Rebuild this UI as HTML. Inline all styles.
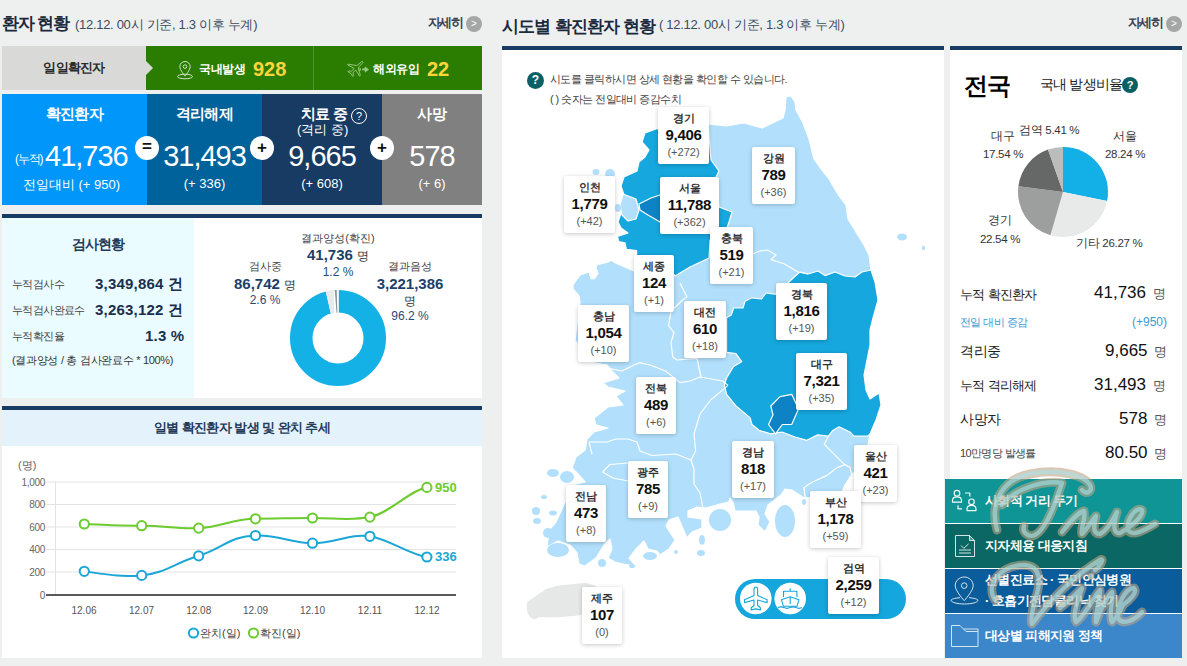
<!DOCTYPE html>
<html><head><meta charset="utf-8">
<style>
*{box-sizing:border-box;margin:0;padding:0}
html,body{width:1187px;height:666px;overflow:hidden;background:#eeefef;font-family:"Liberation Sans",sans-serif;position:relative}
.a{position:absolute;white-space:nowrap}
.c{text-align:center}
.w{color:#fff}
</style></head><body>

<!-- ===== LEFT HEADER ===== -->
<div class="a" style="left:2px;top:12px;font-size:17px;font-weight:bold;color:#1b2a3d;letter-spacing:-1.3px">환자 현황</div>
<div class="a" style="left:75px;top:16px;font-size:13px;color:#3c4b5e;letter-spacing:-0.3px">(12.12. 00시 기준, 1.3 이후 누계)</div>
<div class="a" style="left:428px;top:15px;font-size:12.5px;font-weight:bold;color:#3b3f52;letter-spacing:-1.6px">자세히</div>
<div class="a" style="left:466px;top:16px;width:16px;height:16px;border-radius:50%;background:#a5a6a6;color:#fff;font-size:10px;line-height:16px;text-align:center">&gt;</div>

<!-- daily bar -->
<div class="a" style="left:2px;top:46px;width:144px;height:44px;background:#d9dad8"></div>
<div class="a c" style="left:2px;top:59px;width:144px;font-size:13px;font-weight:bold;color:#2a2a2a;letter-spacing:-0.8px">일일확진자</div>
<div class="a" style="left:146px;top:46px;width:336px;height:44px;background:#2a7d00"></div>
<div class="a" style="left:146px;top:61px;width:0;height:0;border-top:7px solid transparent;border-bottom:7px solid transparent;border-left:7px solid #d9dad8"></div>
<div class="a" style="left:313px;top:46px;width:1px;height:44px;background:#4e9430"></div>
<svg class="a" style="left:176px;top:60px" width="18" height="20" viewBox="0 0 18 20" fill="none" stroke="#cfe3c4" stroke-width="1">
<path d="M9 1.5c-3 0-5.2 2.3-5.2 5.1 0 3.4 5.2 9.6 5.2 9.6s5.2-6.2 5.2-9.6C14.2 3.8 12 1.5 9 1.5z"/>
<circle cx="9" cy="6.6" r="1.8"/>
<ellipse cx="9" cy="16.5" rx="7.5" ry="2.3"/>
</svg>
<div class="a w" style="left:199px;top:61px;font-size:12px;font-weight:bold;letter-spacing:-0.4px">국내발생</div>
<div class="a" style="left:253px;top:58px;font-size:20px;font-weight:bold;color:#ffd53a">928</div>
<svg class="a" style="left:343px;top:56px" width="30" height="24" viewBox="0 0 30 24" fill="none" stroke="#98c884" stroke-width="0.95" stroke-linejoin="round">
<path d="M18.8 5.6C19.8 5.3 20.2 6.2 19.6 7.1L15.6 11 17.2 19.5C17.3 20 16.8 20.4 16.4 20L12.8 14 10 16.6 10.5 19.8 9.6 20.3 8 17.5 5 15.8 5.5 15 8.5 15.2 11.2 12.4 4.8 9C4.3 8.7 4.6 8.2 5.1 8.2L13.8 9.6Z"/>
<path d="M15.6 12.3v2.3M17.4 12.3v2.3" stroke-width="1"/>
<path d="M19.2 13.4h3.2" stroke-width="1.9"/>
<path d="M21.8 10.3L26 13.4 21.8 16.8Z" fill="#98c884" stroke="none"/>
</svg>
<div class="a w" style="left:373px;top:61px;font-size:12px;font-weight:bold;letter-spacing:-0.4px">해외유입</div>
<div class="a" style="left:427px;top:58px;font-size:20px;font-weight:bold;color:#ffd53a">22</div>

<!-- big boxes -->
<div class="a" style="left:2px;top:94px;width:145px;height:111px;background:#0096fa"></div>
<div class="a" style="left:147px;top:94px;width:115px;height:111px;background:#00629b"></div>
<div class="a" style="left:262px;top:94px;width:120px;height:111px;background:#173b63"></div>
<div class="a" style="left:382px;top:94px;width:100px;height:111px;background:#808080"></div>

<div class="a c w" style="left:2px;top:105px;width:145px;font-size:15px;font-weight:bold;letter-spacing:-0.8px">확진환자</div>
<div class="a c w" style="left:147px;top:105px;width:115px;font-size:15px;font-weight:bold;letter-spacing:-0.7px">격리해제</div>
<div class="a w" style="left:301px;top:105px;font-size:15px;font-weight:bold;letter-spacing:-0.8px">치료 중</div>
<div class="a" style="left:351px;top:108px;width:16px;height:16px;border:1px solid #fff;border-radius:50%;color:#fff;font-size:11px;line-height:14px;text-align:center">?</div>
<div class="a w" style="left:297px;top:121px;font-size:13px">(격리 중)</div>
<div class="a c w" style="left:382px;top:105px;width:100px;font-size:15px;font-weight:bold">사망</div>

<div class="a w" style="left:15px;top:151px;font-size:12px;letter-spacing:-1.2px">(누적)</div>
<div class="a w" style="left:45px;top:140px;font-size:29px;letter-spacing:-1px">41,736</div>
<div class="a c w" style="left:147px;top:140px;width:115px;font-size:29px;letter-spacing:-1px">31,493</div>
<div class="a c w" style="left:262px;top:140px;width:120px;font-size:29px;letter-spacing:-1px">9,665</div>
<div class="a c w" style="left:382px;top:140px;width:100px;font-size:29px;letter-spacing:-1px">578</div>

<div class="a c w" style="left:-1px;top:176px;width:145px;font-size:13px">전일대비 (+ 950)</div>
<div class="a c w" style="left:147px;top:176px;width:115px;font-size:13px">(+ 336)</div>
<div class="a c w" style="left:262px;top:176px;width:120px;font-size:13px">(+ 608)</div>
<div class="a c w" style="left:382px;top:176px;width:100px;font-size:13px">(+ 6)</div>

<div class="a c" style="left:135px;top:136px;width:24px;height:24px;border-radius:50%;background:#fff;font-size:17px;font-weight:bold;line-height:22px;color:#111">=</div>
<div class="a c" style="left:250px;top:136px;width:24px;height:24px;border-radius:50%;background:#fff;font-size:17px;font-weight:bold;line-height:23px;color:#111">+</div>
<div class="a c" style="left:370px;top:136px;width:24px;height:24px;border-radius:50%;background:#fff;font-size:17px;font-weight:bold;line-height:23px;color:#111">+</div>

<!-- test panel -->
<div class="a" style="left:2px;top:214px;width:480px;height:184px;background:#fff;border-top:4px solid #173b63"></div>
<div class="a" style="left:2px;top:218px;width:192px;height:180px;background:#eafcff"></div>
<div class="a c" style="left:2px;top:236px;width:192px;font-size:14px;font-weight:bold;color:#243b5a;letter-spacing:-1px">검사현황</div>
<div class="a" style="left:12px;top:277px;font-size:11px;color:#444;letter-spacing:-0.6px">누적검사수</div>
<div class="a" style="left:12px;top:303px;font-size:11px;color:#444;letter-spacing:-0.6px">누적검사완료수</div>
<div class="a" style="left:12px;top:329px;font-size:11px;color:#444;letter-spacing:-0.6px">누적확진율</div>
<div class="a" style="left:95px;top:275px;font-size:15px;font-weight:bold;color:#1b2f4d;letter-spacing:0.2px">3,349,864 건</div>
<div class="a" style="left:95px;top:301px;font-size:15px;font-weight:bold;color:#1b2f4d;letter-spacing:0.2px">3,263,122 건</div>
<div class="a" style="left:145px;top:327px;font-size:15px;font-weight:bold;color:#1b2f4d;letter-spacing:0.2px">1.3 %</div>
<div class="a" style="left:12px;top:353px;font-size:11px;color:#333;letter-spacing:-0.3px">(결과양성 / 총 검사완료수 * 100%)</div>

<div class="a c" style="left:290px;top:231px;width:96px;font-size:11px;color:#444">결과양성(확진)</div>
<div class="a c" style="left:290px;top:246px;width:96px;font-size:15px;font-weight:bold;color:#1d3f6b">41,736 <span style="font-size:12px;font-weight:normal;color:#333">명</span></div>
<div class="a c" style="left:290px;top:265px;width:96px;font-size:12px;color:#2a4a78">1.2 %</div>
<div class="a c" style="left:225px;top:259px;width:80px;font-size:11px;color:#444">검사중</div>
<div class="a c" style="left:225px;top:275px;width:80px;font-size:15px;font-weight:bold;color:#1d3f6b">86,742 <span style="font-size:12px;font-weight:normal;color:#333">명</span></div>
<div class="a c" style="left:225px;top:293px;width:80px;font-size:12px;color:#2a4a78">2.6 %</div>
<div class="a c" style="left:370px;top:259px;width:80px;font-size:11px;color:#444">결과음성</div>
<div class="a c" style="left:360px;top:275px;width:100px;font-size:15px;font-weight:bold;color:#1d3f6b">3,221,386</div>
<div class="a c" style="left:370px;top:293px;width:80px;font-size:12px;color:#333">명</div>
<div class="a c" style="left:370px;top:309px;width:80px;font-size:12px;color:#2a4a78">96.2 %</div>
<svg class="a" style="left:290px;top:290px" width="96" height="96" viewBox="-48 -48 96 96">
<circle r="36.75" fill="none" stroke="#14b1e7" stroke-width="22.5"/>
<path d="M0.8 -49L0.8 -24L-7.1 -24.4L-12.6 -48Z" fill="#fff"/>
<path d="M-4.2 -48.5L-3.9 -25.2L-7.3 -24.4L-12.2 -46.8Z" fill="#e9eaea"/>
<path d="M-3.3 -48.6L-1.3 -48.6L-0.6 -25.3L-1.5 -25.3Z" fill="#8a9699"/>
</svg>

<!-- chart panel -->
<div class="a" style="left:2px;top:406px;width:480px;height:252px;background:#fff;border-top:4px solid #173b63"></div>
<div class="a" style="left:2px;top:410px;width:480px;height:36px;background:#e4f3fb"></div>
<div class="a c" style="left:2px;top:419px;width:480px;font-size:13px;font-weight:bold;color:#243b5a;letter-spacing:-0.6px">일별 확진환자 발생 및 완치 추세</div>
<svg class="a" style="left:0;top:446px" width="482" height="210" viewBox="0 446 482 210">
<g stroke="#e3e3e3" stroke-width="1">
<path d="M46 482H456M46 504.5H456M46 527H456M46 549.5H456M46 572H456"/>
</g>
<path d="M55.5 482V595" stroke="#e3e3e3"/>
<path d="M46 595H456" stroke="#222" stroke-width="1.5"/>
<g font-size="10" fill="#666" text-anchor="end" font-family="Liberation Sans" letter-spacing="-0.3">
<text x="45" y="485.5">1,000</text><text x="45" y="508">800</text><text x="45" y="530.5">600</text><text x="45" y="553">400</text><text x="45" y="575.5">200</text><text x="45" y="598.5">0</text>
</g>
<text x="18" y="469" font-size="11" fill="#666" font-family="Liberation Sans">(명)</text>
<g font-size="10" fill="#555" text-anchor="middle" font-family="Liberation Sans">
<text x="84" y="614">12.06</text><text x="141.5" y="614">12.07</text><text x="198.7" y="614">12.08</text><text x="255.5" y="614">12.09</text><text x="312.5" y="614">12.10</text><text x="370" y="614">12.11</text><text x="427" y="614">12.12</text>
</g>
<path d="M84.3 524C110 525 120 526 141.7 525.7S175 529 198.7 528.1S230 519 255.5 518.8S290 518 312.5 518S350 521 369.9 517.1S410 490 426.9 487.4" fill="none" stroke="#6ccb2e" stroke-width="2"/>
<path d="M84.3 571.3C110 575 120 577 141.7 575.4S175 563 198.7 555.8S230 536 255.5 535.5S290 543 312.5 543.2S350 533 369.9 536.3S410 555 426.9 557" fill="none" stroke="#1ba6d8" stroke-width="2"/>
<g fill="#fff" stroke="#6ccb2e" stroke-width="2">
<circle cx="84.3" cy="524" r="4.6"/><circle cx="141.7" cy="525.7" r="4.6"/><circle cx="198.7" cy="528.1" r="4.6"/><circle cx="255.5" cy="518.8" r="4.6"/><circle cx="312.5" cy="518" r="4.6"/><circle cx="369.9" cy="517.1" r="4.6"/><circle cx="426.9" cy="487.4" r="4.6"/>
</g>
<g fill="#fff" stroke="#1ba6d8" stroke-width="2">
<circle cx="84.3" cy="571.3" r="4.6"/><circle cx="141.7" cy="575.4" r="4.6"/><circle cx="198.7" cy="555.8" r="4.6"/><circle cx="255.5" cy="535.5" r="4.6"/><circle cx="312.5" cy="543.2" r="4.6"/><circle cx="369.9" cy="536.3" r="4.6"/><circle cx="426.9" cy="557" r="4.6"/>
</g>
<text x="435" y="492" font-size="13" font-weight="bold" fill="#6ccb2e" font-family="Liberation Sans">950</text>
<text x="435" y="561" font-size="13" font-weight="bold" fill="#1ba6d8" font-family="Liberation Sans">336</text>
<circle cx="193.5" cy="633" r="4.6" fill="none" stroke="#1ba6d8" stroke-width="2"/>
<text x="200" y="637" font-size="11" fill="#444" font-family="Liberation Sans">완치(일)</text>
<circle cx="253.5" cy="633" r="4.6" fill="none" stroke="#6ccb2e" stroke-width="2"/>
<text x="260" y="637" font-size="11" fill="#444" font-family="Liberation Sans">확진(일)</text>
</svg>

<!-- map panel -->
<div class="a" style="left:502px;top:15px;font-size:17px;font-weight:bold;color:#1b2a3d;letter-spacing:-0.8px">시도별 확진환자 현황</div>
<div class="a" style="left:659px;top:16px;font-size:13px;color:#3c4b5e;letter-spacing:-0.3px">( 12.12. 00시 기준, 1.3 이후 누계)</div>
<div class="a" style="left:502px;top:46px;width:442px;height:612px;background:#fff;border-top:4px solid #173b63"></div>
<div class="a c" style="left:527px;top:72px;width:17px;height:17px;border-radius:50%;background:#0b6065;color:#fff;font-size:12px;font-weight:bold;line-height:17px">?</div>
<div class="a" style="left:550px;top:72px;font-size:11px;color:#444;letter-spacing:-0.55px">시도를 클릭하시면 상세 현황을 확인할 수 있습니다.</div>
<div class="a" style="left:550px;top:92px;font-size:11px;color:#444;letter-spacing:-0.55px">( ) 숫자는 전일대비 증감수치</div>

<svg class="a" style="left:502px;top:50px" width="442" height="607" viewBox="502 50 442 607">
<g stroke="#fff" stroke-width="1.2" stroke-linejoin="round">
<path fill="#b2e0fc" d="M645 133L656 129 675 127 708 124 726 126 744 123 762 128 783 118 785 110 786 97 791 96 795 102 796 110 803 123 809 139 814 159 821 169 829 179 839 196 846 205 848 219 856 232 864 245 869 255 871 270 875 282 878 300 873 318 870 330 870 345 867 360 864 375 866 390 870 399 879 393 881 405 876 420 870 434 867 450 858 470 852 474 845 485 842 492 820 496 804 498 801 496 792 490 785 489 781 495 768 505 765 514 770 522 765 532 758 525 759 517 756 511 735 511 733 502 730 498 729 502 720 504 706 508 697 507 688 511 688 517 702 519 702 528 692 532 687 538 678 517 669 520 666 526 675 540 669 549 660 555 657 551 648 549 644 541 636 549 629 558 636 566 623 564 615 562 608 558 612 549 610 539 604 545 596 558 585 566 579 564 577 553 570 545 558 541 547 547 549 530 556 522 566 500 572 485 585 482 578 474 572 468 576 457 585 450 587 439 594 432 608 428 596 425 594 418 608 407 623 405 616 396 625 391 608 387 603 383 619 378 612 371 607 365 590 362 575 340 580 302 579 296 573 289 573 285 580 275 589 272 591 278.6 594.5 278.6 598 273.5 596 268.4 597 264.6 608.5 262 611 260 616 263.3 634 271 636.6 255.6 636.6 250.5 626.4 249.3 625 242.9 618.7 241.6 617.4 236.5 628 233 621 228 618 222 622 210 624 195 621 186 624 177 637 171 639 162 645 157 649 150 642 142Z"/>
<path fill="#15a7de" d="M645 133L656 129 675 127 708 124 711 160 719 171 716 177 719 207 732 212 729 222 726 231 710 240 709 258 690 267 675 276 660 258 636.6 255.6 636.6 250.5 626.4 249.3 625 242.9 618.7 241.6 617.4 236.5 628 233 621 228 618 222 622 210 624 195 621 186 624 177 637 171 639 162 645 157 649 150 642 142Z"/>
<path fill="#b2e0fc" d="M623 194L636 199 639 210 636 219 628 221 622 215 620 205Z"/>
<path fill="#0d83c5" d="M639 204L651 198 660 195 672 196 660 222 648 215 640 210Z"/>
<path fill="#15a7de" d="M794.7 276.5L800 272 808 274 818 271 825 275.6 835 272 845 276 855 277 862 272 871 270 875 282 878 300 873 318 870 330 870 345 867 360 864 375 866 390 870 399 879 393 881 405 876 420 870 434 867.6 436.2 854 436.2 850 432 839 426.8 832.4 430.8 828.4 436.2 817.6 434.9 806.8 440.3 795 437 782 432 770.8 433.8 759 430.3 752 424.5 750 417.6 736 406 726.6 394.3 724.3 385 726.6 378 733.6 366.4 741.7 361.7 736 353.6 726.6 352.4 726.6 317.6 731.3 315 733.6 308 743 308 745 301.3 752 297.8 761.5 299 766 293 776.6 294.3 789 282Z"/>
<path fill="#0d83c5" d="M770.8 406L780 396.6 791.7 394.3 798.5 409 791.7 424.5 782.4 424.5 775.5 433.8 768.5 424.5 773 415Z"/>
</g>
<g fill="none" stroke="#fff" stroke-width="1.2" stroke-linejoin="round">
<path d="M753 253.7L760 251 767.5 250 776 255 771 259.6 784 263.8 798 272 808 274"/>
<path d="M607 368L622 371 634 365 640 362.6 651.4 365.5 665.6 371 680 382.6 690 381 700 377 722.6 381 728 385.4"/>
<path d="M680 283L687 297 682.7 300 671 311 668.5 325.6 674 332.7 671 342.7 672.8 357 677 360 697 358.3 701 377"/>

<path d="M589 442L592 454M589 442L607 442 616 439 628 439 637 442 640 451 652 455.5 676 454 691 460 694 469 694 484 700 493 703 508"/>
<path d="M602.5 472L610 464.5 628 463M628 481L613 478 602.5 472"/>
<path d="M728 385.4L711 399.7 700 414 694 434 695.6 451 691 460"/>
<path d="M828.4 436.2L824.3 444.3 844.6 464.6 850 467.3 851.4 474M844.6 464.6L836.5 468 827 475.4 812 482.2 804 487.6 805.4 501"/>

</g>
<g fill="#b2e0fc">
<ellipse cx="902" cy="237" rx="5" ry="3.5"/><ellipse cx="923.5" cy="248" rx="1.6" ry="2.2"/>
<ellipse cx="553" cy="473" rx="6" ry="4"/><ellipse cx="567" cy="477" rx="7" ry="6"/><ellipse cx="544" cy="497" rx="3" ry="2"/>
<ellipse cx="536" cy="511" rx="4" ry="4"/><ellipse cx="537" cy="521" rx="4" ry="3"/><ellipse cx="548" cy="533" rx="5" ry="5"/><ellipse cx="553" cy="513" rx="4" ry="2.5"/>
<ellipse cx="558" cy="550" rx="11" ry="7"/><ellipse cx="602" cy="563" rx="4" ry="4"/><ellipse cx="632" cy="566" rx="3" ry="2"/>
<ellipse cx="650" cy="556" rx="7" ry="4"/><ellipse cx="676" cy="552" rx="2" ry="2"/>
<ellipse cx="785" cy="521" rx="10" ry="16"/><ellipse cx="720" cy="520" rx="11" ry="11"/><ellipse cx="702" cy="540" rx="3" ry="5"/><ellipse cx="701" cy="553" rx="4" ry="3"/><ellipse cx="804" cy="502" rx="2" ry="3"/>
<ellipse cx="596" cy="172" rx="3.5" ry="3"/><ellipse cx="610" cy="174" rx="5" ry="5"/><ellipse cx="618" cy="208" rx="3" ry="4"/>
</g>
<path fill="#e6e8e8" d="M527.4 602L546 589 557 585.7 586 582.8 596 586 596 612 578 615.5 557 617.5 539 617C536 620 531 620 528.5 614.6C526.5 611 526.5 605 527.4 602Z"/>
<rect x="735" y="579" width="171" height="40" rx="20" fill="#14a6dc"/>
<circle cx="755.8" cy="598.5" r="15.8" fill="#fff"/>
<circle cx="790.2" cy="598.5" r="15.8" fill="#fff"/>
<g fill="none" stroke="#14a6dc" stroke-width="1.1" stroke-linejoin="round">
<path d="M755.8 587c-1.2 0-1.8 1-1.8 2.3v6.2l-9.5 4.3v2.8l9.5-2.6v5.5l-2.8 2.2v2.2l4.6-1 4.6 1v-2.2l-2.8-2.2v-5.5l9.5 2.6v-2.8l-9.5-4.3v-6.2c0-1.3-0.6-2.3-1.8-2.3z"/>
<path d="M790.2 588.3v3M783.5 597v-5.7h13.4V597"/>
<path d="M781.5 599.8L790.2 596.8 798.9 599.8 797 606.3H783.4Z"/>
<path d="M790.2 597v7"/>
<path d="M778 607.6c2-1 4-1 6 0s4 1 6 0 4-1 6 0 4 1 6 0"/>
</g>
</svg>

<!-- map labels -->
<style>
.lb{position:absolute;background:#fff;border-radius:2px;box-shadow:0 1px 4px rgba(0,0,0,.22);text-align:center;height:57px}
.lb b{display:block;font-size:11px;color:#333;margin-top:4px;height:14px;line-height:14px}
.lb i{display:block;font-style:normal;font-size:15px;font-weight:bold;color:#111;height:19px;line-height:19px;letter-spacing:-0.3px}
.lb u{display:block;text-decoration:none;font-size:11px;color:#555;height:14px;line-height:14px;margin-top:0.5px}
</style>
<div class="lb" style="left:658px;top:107px;width:51px"><b>경기</b><i>9,406</i><u>(+272)</u></div>
<div class="lb" style="left:752px;top:147px;width:43px"><b>강원</b><i>789</i><u>(+36)</u></div>
<div class="lb" style="left:564px;top:176px;width:51px"><b>인천</b><i>1,779</i><u>(+42)</u></div>
<div class="lb" style="left:660px;top:177px;width:59px"><b>서울</b><i>11,788</i><u>(+362)</u></div>
<div class="lb" style="left:710px;top:227px;width:43px"><b>충북</b><i>519</i><u>(+21)</u></div>
<div class="lb" style="left:634px;top:255px;width:40px"><b>세종</b><i>124</i><u>(+1)</u></div>
<div class="lb" style="left:776px;top:283px;width:51px"><b>경북</b><i>1,816</i><u>(+19)</u></div>
<div class="lb" style="left:684px;top:301px;width:42px"><b>대전</b><i>610</i><u>(+18)</u></div>
<div class="lb" style="left:578px;top:305px;width:51px"><b>충남</b><i>1,054</i><u>(+10)</u></div>
<div class="lb" style="left:796px;top:353px;width:51px"><b>대구</b><i>7,321</i><u>(+35)</u></div>
<div class="lb" style="left:636px;top:377px;width:40px"><b>전북</b><i>489</i><u>(+6)</u></div>
<div class="lb" style="left:732px;top:441px;width:42px"><b>경남</b><i>818</i><u>(+17)</u></div>
<div class="lb" style="left:854px;top:445px;width:43px"><b>울산</b><i>421</i><u>(+23)</u></div>
<div class="lb" style="left:628px;top:461px;width:40px"><b>광주</b><i>785</i><u>(+9)</u></div>
<div class="lb" style="left:566px;top:485px;width:40px"><b>전남</b><i>473</i><u>(+8)</u></div>
<div class="lb" style="left:810px;top:491px;width:51px"><b>부산</b><i>1,178</i><u>(+59)</u></div>
<div class="lb" style="left:828px;top:557px;width:51px"><b>검역</b><i>2,259</i><u>(+12)</u></div>
<div class="lb" style="left:582px;top:587px;width:40px"><b>제주</b><i>107</i><u>(0)</u></div>

<!-- right panel -->
<div class="a" style="left:1128px;top:15px;font-size:12.5px;font-weight:bold;color:#3b3f52;letter-spacing:-1.6px">자세히</div>
<div class="a" style="left:1166px;top:16px;width:16px;height:16px;border-radius:50%;background:#a5a6a6;color:#fff;font-size:10px;line-height:16px;text-align:center">&gt;</div>
<div class="a" style="left:950px;top:46px;width:232px;height:433px;background:#fff;border-top:4px solid #173b63"></div>
<div class="a" style="left:964px;top:70px;font-size:24px;font-weight:bold;color:#000;letter-spacing:-1px">전국</div>
<div class="a" style="left:1040px;top:76px;font-size:14px;color:#222;letter-spacing:-0.8px">국내 발생비율</div>
<div class="a c" style="left:1122px;top:77px;width:16px;height:16px;border-radius:50%;background:#0b6065;color:#fff;font-size:11px;font-weight:bold;line-height:16px">?</div>

<svg class="a" style="left:1013px;top:142px" width="100" height="100" viewBox="-50 -50 100 100">
<g>
<path id="p1" fill="#12b0e6"/>
<path id="p2" fill="#e8e9e9"/>
<path id="p3" fill="#9d9e9e"/>
<path id="p4" fill="#666767"/>
<path id="p5" fill="#bbbcbc"/>
</g>
</svg>
<div class="a" style="left:1019px;top:123px;font-size:11.5px;color:#333;letter-spacing:-0.3px">검역 5.41 %</div>
<div class="a" style="left:991px;top:129px;font-size:11.5px;color:#333;letter-spacing:-0.3px">대구</div>
<div class="a" style="left:983px;top:148px;font-size:11.5px;color:#333;letter-spacing:-0.3px">17.54 %</div>
<div class="a" style="left:1113px;top:129px;font-size:11.5px;color:#333;letter-spacing:-0.3px">서울</div>
<div class="a" style="left:1105px;top:148px;font-size:11.5px;color:#333;letter-spacing:-0.3px">28.24 %</div>
<div class="a" style="left:988px;top:213px;font-size:11.5px;color:#333;letter-spacing:-0.3px">경기</div>
<div class="a" style="left:980px;top:233px;font-size:11.5px;color:#333;letter-spacing:-0.3px">22.54 %</div>
<div class="a" style="left:1076px;top:236px;font-size:11.5px;color:#333;letter-spacing:-0.3px">기타 26.27 %</div>

<div class="a" style="left:960px;top:286px;font-size:13px;color:#222;letter-spacing:-0.7px">누적 확진환자</div>
<div class="a" style="left:1094px;top:283px;font-size:17px;color:#111">41,736 <span style="font-size:13px;color:#555;margin-left:2px">명</span></div>
<div class="a" style="left:960px;top:315px;font-size:11px;color:#3a9ad5;letter-spacing:-0.6px">전일 대비 증감</div>
<div class="a" style="left:1132px;top:315px;font-size:12px;color:#3a9ad5">(+950)</div>
<div class="a" style="left:960px;top:343px;font-size:13.5px;color:#222;letter-spacing:-0.5px">격리중</div>
<div class="a" style="left:1105px;top:341px;font-size:17px;color:#111">9,665 <span style="font-size:13px;color:#555;margin-left:2px">명</span></div>
<div class="a" style="left:960px;top:377px;font-size:13px;color:#222;letter-spacing:-0.7px">누적 격리해제</div>
<div class="a" style="left:1094px;top:375px;font-size:17px;color:#111">31,493 <span style="font-size:13px;color:#555;margin-left:2px">명</span></div>
<div class="a" style="left:960px;top:411px;font-size:13.5px;color:#222;letter-spacing:-0.5px">사망자</div>
<div class="a" style="left:1119px;top:409px;font-size:17px;color:#111">578 <span style="font-size:13px;color:#555;margin-left:2px">명</span></div>
<div class="a" style="left:960px;top:446px;font-size:11px;color:#444;letter-spacing:-0.6px">10만명당 발생률</div>
<div class="a" style="left:1105px;top:443px;font-size:17px;color:#111">80.50 <span style="font-size:13px;color:#555;margin-left:2px">명</span></div>

<div class="a" style="left:945px;top:479px;width:237px;height:179px;background:#fff"></div>
<div class="a" style="left:945px;top:479px;width:237px;height:44px;background:#0f9595"></div>
<div class="a" style="left:945px;top:524px;width:237px;height:44px;background:#0a6763"></div>
<div class="a" style="left:945px;top:569px;width:237px;height:44px;background:#0b5c9a"></div>
<div class="a" style="left:945px;top:614px;width:237px;height:44px;background:#3b87c9"></div>
<div class="a w" style="left:985px;top:492px;font-size:13px;font-weight:bold;letter-spacing:-0.6px">사회적 거리 두기</div>
<div class="a w" style="left:985px;top:537px;font-size:13px;font-weight:bold;letter-spacing:-0.6px">지자체용 대응지침</div>
<div class="a w" style="left:985px;top:571px;font-size:13px;font-weight:bold;letter-spacing:-0.6px">선별진료소 · 국민안심병원</div>
<div class="a w" style="left:985px;top:592px;font-size:13px;font-weight:bold;letter-spacing:-0.6px">· 호흡기전담클리닉 찾기</div>
<div class="a w" style="left:985px;top:627px;font-size:13px;font-weight:bold;letter-spacing:-0.6px">대상별 피해지원 정책</div>
<svg class="a" style="left:945px;top:479px" width="40" height="180" viewBox="945 479 40 180" fill="none" stroke="#f2fafa" stroke-width="1.2" stroke-linejoin="round">
<circle cx="957" cy="493.2" r="2.8"/><path d="M952.5 502.2v-1.5c0-2.3 2-3.8 4.5-3.8s4.5 1.5 4.5 3.8v1.5z"/>
<path d="M965 493h4.8v3.5"/>
<circle cx="971.5" cy="501.8" r="2.8"/><path d="M967 510.6v-1.5c0-2.3 2-3.8 4.5-3.8s4.5 1.5 4.5 3.8v1.5z"/>
<path d="M958 505.2v3.6h4"/>
<g stroke="#cfe6e4" stroke-width="1">
<path d="M955.5 535.5h14l5 5v16h-19z"/><path d="M969.5 535.5v5h5z" fill="#cfe6e4" fill-opacity="0.35"/>
<path d="M961 545.5l2.8 2.8 4.8-4.4M959 550h12M959 553h12"/>
</g>
<g stroke="#d4e4f0" stroke-width="1">
<path d="M964.2 577c-5 0-9 3.9-9 8.8 0 5 9 14.9 9 14.9s9-9.9 9-14.9c0-4.9-4-8.8-9-8.8z"/><circle cx="964.2" cy="585.6" r="2.8"/>
<path d="M960 597.6C954.5 598.3 951 599.2 951 600.2 951 602.3 957 604 964.5 604S978 602.3 978 600.2C978 599.2 974.5 598.3 969 597.6"/>
<path d="M951.5 625.5h8.5l3.5 3.5h14.5v17.5h-26.5z"/><path d="M963.5 629l2.5 2.5h12"/>
</g>
</svg>
<svg class="a" style="left:945px;top:460px" width="242" height="206" viewBox="945 460 242 206">
<g fill="none" stroke-linecap="round" stroke-linejoin="round">
<path d="M997 530C990 505 1000 480 1030 474C1060 468 1085 476 1090 485C1093 492 1086 495 1082 490 M1002 505C1015 488 1045 480 1062 483 M1062 483C1055 505 1045 530 1035 535C1028 538 1022 532 1024 526 M1062 532C1070 522 1078 512 1084 511C1086 520 1080 528 1082 534C1088 528 1092 520 1096 516 M1096 516C1094 525 1092 534 1100 534C1108 530 1114 518 1117 512C1114 522 1112 534 1120 533 M1120 533C1130 528 1144 516 1142 510C1136 506 1126 520 1128 530C1132 537 1145 530 1155 524 M995 600C985 585 1000 565 1025 565C1040 566 1042 580 1035 600C1032 612 1030 622 1032 624C1050 600 1075 575 1100 560C1105 557 1100 567 1095 570 M1060 608C1070 600 1078 592 1082 588C1078 600 1072 615 1076 622C1080 620 1085 612 1090 605 M1090 605C1094 598 1098 592 1100 590C1100 600 1095 615 1096 622C1100 610 1108 595 1112 592C1114 600 1108 615 1112 622C1116 618 1120 612 1123 605 M1123 605C1130 600 1138 592 1134 588C1126 588 1116 605 1118 618C1122 626 1135 620 1142 612" stroke="rgba(190,165,135,0.6)" stroke-width="9"/>
<path d="M997 530C990 505 1000 480 1030 474C1060 468 1085 476 1090 485C1093 492 1086 495 1082 490 M1002 505C1015 488 1045 480 1062 483 M1062 483C1055 505 1045 530 1035 535C1028 538 1022 532 1024 526 M1062 532C1070 522 1078 512 1084 511C1086 520 1080 528 1082 534C1088 528 1092 520 1096 516 M1096 516C1094 525 1092 534 1100 534C1108 530 1114 518 1117 512C1114 522 1112 534 1120 533 M1120 533C1130 528 1144 516 1142 510C1136 506 1126 520 1128 530C1132 537 1145 530 1155 524 M995 600C985 585 1000 565 1025 565C1040 566 1042 580 1035 600C1032 612 1030 622 1032 624C1050 600 1075 575 1100 560C1105 557 1100 567 1095 570 M1060 608C1070 600 1078 592 1082 588C1078 600 1072 615 1076 622C1080 620 1085 612 1090 605 M1090 605C1094 598 1098 592 1100 590C1100 600 1095 615 1096 622C1100 610 1108 595 1112 592C1114 600 1108 615 1112 622C1116 618 1120 612 1123 605 M1123 605C1130 600 1138 592 1134 588C1126 588 1116 605 1118 618C1122 626 1135 620 1142 612" stroke="rgba(170,225,232,0.6)" stroke-width="4.4"/>
<circle cx="1091" cy="576" r="2.5" fill="rgba(175,225,232,0.7)" stroke="rgba(200,172,140,0.7)" stroke-width="2"/>
</g>
</svg>
<script>
(function(){var v=[28.24,26.27,22.54,17.54,5.41],a=-Math.PI/2,R=45;
for(var i=0;i<5;i++){var b=a+v[i]/100*2*Math.PI;var x1=R*Math.cos(a),y1=R*Math.sin(a),x2=R*Math.cos(b),y2=R*Math.sin(b);
document.getElementById('p'+(i+1)).setAttribute('d','M0 0L'+x1+' '+y1+'A'+R+' '+R+' 0 '+(v[i]>50?1:0)+' 1 '+x2+' '+y2+'Z');a=b;}})();
</script>
</body></html>
